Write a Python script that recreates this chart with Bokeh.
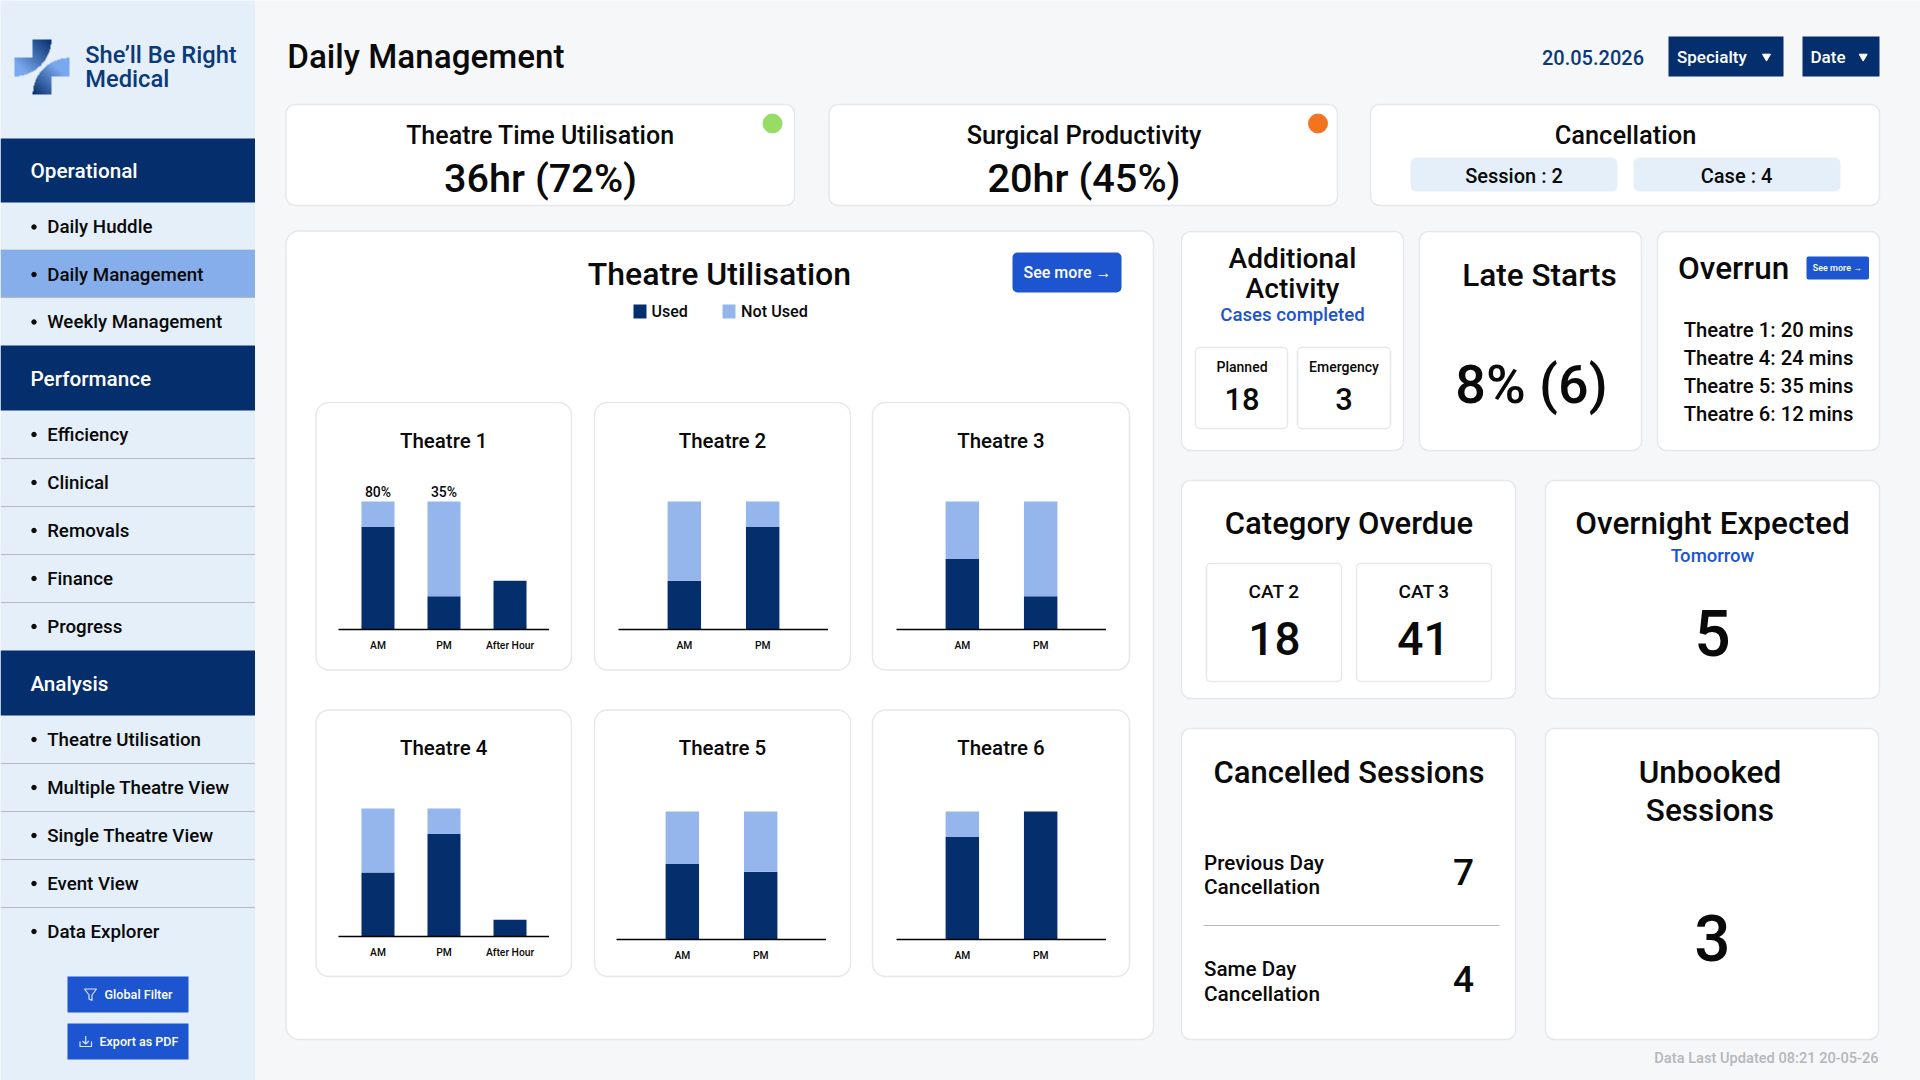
import numpy as np
from bokeh.core.properties import value
from bokeh.embed import file_html
from bokeh.layouts import column
from bokeh.models import ColumnDataSource, FactorRange, Range1d
from bokeh.plotting import figure
from bokeh.resources import INLINE

# ---------- data ----------
NAV_OPERATIONAL = ["Daily Huddle", "Daily Management", "Weekly Management"]
NAV_PERFORMANCE = ["Efficiency", "Clinical", "Removals", "Finance", "Progress"]
NAV_ANALYSIS = ["Theatre Utilisation", "Multiple Theatre View", "Single Theatre View", "Event View", "Data Explorer"]

SLOTS_3 = ["AM", "PM", "After Hour"]
SLOTS_2 = ["AM", "PM"]
T1_USED = [80, 26, 38]
T1_FREE = [20, 74, 0]
T2_USED = [38, 80]
T2_FREE = [62, 20]
T3_USED = [55, 26]
T3_FREE = [45, 74]
T4_USED = [50, 80, 13]
T4_FREE = [50, 20, 0]
T5_USED = [59, 53]
T5_FREE = [41, 47]
T6_USED = [80, 100]
T6_FREE = [20, 0]
T1_LABELS = ["80%", "35%", ""]

OVERRUN_LINES = ["Theatre 1: 20 mins", "Theatre 4: 24 mins", "Theatre 5: 35 mins", "Theatre 6: 12 mins"]

# ---------- palette ----------
NAVY = "#052E6C"
LIGHT = "#94B6EC"
BLUE = "#1D55D0"
SIDE = "#E4EFF9"
HILITE = "#86AEEB"
PAGE = "#F6F7F9"
EDGE = "#E6E8EC"
SEP = "#B4BAC0"
INK = "#0A0A0A"
FONT = "Roboto Medium"

bg = figure(width=1920, height=1080, x_range=Range1d(0, 1920), y_range=Range1d(1080, 0),
            output_backend="svg", toolbar_location=None, min_border=0,
            background_fill_color=PAGE, border_fill_color=PAGE, outline_line_color=None,
            styles={"position": "absolute", "left": "0px", "top": "0px"})
bg.axis.visible = False
bg.grid.visible = False


def box(l, t, r, b, fill="white", line=None, radius=0):
    bg.quad(left=[l], right=[r], top=[t], bottom=[b], fill_color=fill,
            line_color=line, line_width=1.5 if line else 0, border_radius=radius)


def card(l, t, r, b, radius=9):
    off = 1 if radius > 4 else 0
    box(l - off, t - off, r, b, "white", EDGE, radius)


def txt(x, y, s, size, color=INK, align="center"):
    bg.text(x=[x], y=[y], text=[s], text_font=value(FONT), text_font_size=f"{size}px", text_color=color,
            text_align=align, text_baseline="middle")


def hline(x0, x1, y, color=SEP, w=1.2):
    bg.line([x0, x1], [y, y], line_color=color, line_width=w)


# ---------- sidebar ----------
box(0, 0, 254.5, 1080, SIDE)


def section(title, top, items, rowh=48.0, head=65.0, ty=33.0, rc=24.0):
    box(0, top, 254.5, top + head, NAVY)
    txt(30, top + ty, title, 20.7, "white", "left")
    y = top + head
    for i, it in enumerate(items):
        if it == "Daily Management":
            box(0, y, 254.5, y + rowh, HILITE)
        bg.scatter([33.5], [y + rc], size=4.5, color=INK)
        txt(46.7, y + rc, it, 18.7, INK, "left")
        if i < len(items) - 1:
            hline(0, 254.5, y + rowh)
        y += rowh


section("Operational", 138, NAV_OPERATIONAL, rowh=47.5, head=64.0, ty=32.0, rc=24.5)
section("Performance", 345, NAV_PERFORMANCE)
section("Analysis", 650, NAV_ANALYSIS)

# logo
res = 6
px = 70
yy, xx = np.mgrid[0:px * res, 0:px * res]
X = 10 + (xx + .5) / res
Y = 35 + (yy + .5) / res
R = 36.7
top_m = (((X - 14) ** 2 + (Y - 39) ** 2) <= R ** 2) & (X >= 14) & (Y >= 39) & ~((X < 32.3) & (Y < 57.3))
bot_m = (((X - 69) ** 2 + (Y - 94) ** 2) <= R ** 2) & (X <= 69) & (Y <= 94) & ~((X > 50.7) & (Y > 75.7))
dark = np.array([5, 46, 108.])
lite = np.array([122, 168, 238.])
t_top = np.clip(((50.7 - X) + (Y - 39)) / 36.7 * .62, 0, 1)
t_bot = np.clip(((X - 32.3) + (94 - Y)) / 36.7 * .72, 0, 1)
rgb = np.zeros(X.shape + (3,))
for c in range(3):
    rgb[..., c] = np.where(top_m, dark[c] + (lite[c] - dark[c]) * t_top,
                           dark[c] + (lite[c] - dark[c]) * t_bot)
alpha = (top_m | bot_m).astype(float)
img = np.zeros(X.shape, dtype=np.uint32)
view = img.view(dtype=np.uint8).reshape(X.shape + (4,))
view[..., 0] = rgb[..., 0]
view[..., 1] = rgb[..., 1]
view[..., 2] = rgb[..., 2]
view[..., 3] = (alpha * 255).astype(np.uint8)
bg.image_rgba(image=[img], x=[10], y=[35], dw=[px], dh=[px])
txt(84.7, 54, "She’ll Be Right", 23.7, "#0B3A7A", "left")
txt(84.7, 78, "Medical", 23.7, "#0B3A7A", "left")

# side buttons
box(67, 976, 188, 1012, BLUE)
box(67, 1023, 188, 1059, BLUE)
txt(104, 994, "Global Filter", 12.6, "white", "left")
txt(99, 1041, "Export as PDF", 12.5, "white", "left")
bg.line([84, 96, 91.5, 91.5, 88.5, 88.5, 84], [988.5, 988.5, 994.5, 1000, 998.5, 994.5, 988.5],
        line_color="#DCE6F8", line_width=1.2)
bg.line([79.5, 79.5, 91, 91], [1041, 1046, 1046, 1041], line_color="#DCE6F8", line_width=1.2)
bg.line([85.2, 85.2], [1035.5, 1043], line_color="#DCE6F8", line_width=1.2)
bg.line([82, 85.2, 88.4], [1040.5, 1043.5, 1040.5], line_color="#DCE6F8", line_width=1.2)

# ---------- header ----------
txt(286.7, 56, "Daily Management", 33.2, INK, "left")
txt(1643.5, 56.5, "20.05.2026", 20, "#0B3A7A", "right")
box(1668, 36, 1783, 76, NAVY)
box(1802, 36, 1879, 76, NAVY)
txt(1676.5, 56.5, "Specialty", 17, "white", "left")
txt(1810, 56.5, "Date", 17, "white", "left")
bg.scatter([1766, 1862.7], [56, 56], marker="inverted_triangle", size=8, color="white")

# ---------- KPI cards ----------
card(286.5, 105, 794, 205)
card(829.5, 105, 1337, 205)
card(1371, 105, 1879, 205)
txt(540, 135, "Theatre Time Utilisation", 25)
txt(540, 177.7, "36hr (72%)", 39.7)
txt(1083.5, 134.5, "Surgical Productivity", 25.4)
txt(1083.5, 177.7, "20hr (45%)", 39.7)
txt(1625, 134.5, "Cancellation", 25.4)
bg.scatter([772], [123], size=19, color="#97DD65")
bg.scatter([1317.5], [123], size=19, color="#F47321")
box(1410, 157, 1617, 191, SIDE, None, 6)
box(1633, 157, 1840, 191, SIDE, None, 6)
txt(1513.5, 175, "Session : 2", 20)
txt(1736, 175, "Case : 4", 20)

# ---------- theatre panel ----------
card(286.5, 231.5, 1153, 1039, 13)
txt(719, 273.5, "Theatre Utilisation", 32)
box(1012, 252, 1121, 292, BLUE, None, 5)
txt(1067, 272, "See more →", 16, "white")
box(633, 304, 646, 318, NAVY)
box(722, 304, 735, 318, LIGHT)
txt(651, 311, "Used", 16, INK, "left")
txt(740.5, 311, "Not Used", 16.2, INK, "left")

CARD_X = [(316.5, 571), (595, 850), (873, 1129)]
TITLE_X = [443.2, 722, 1000.5]
for row, (t, b) in enumerate([(403, 669.5), (710.5, 976)]):
    for col, (l, r) in enumerate(CARD_X):
        card(l, t, r, b, 13)
        txt(TITLE_X[col], 440 if row == 0 else 747, f"Theatre {row * 3 + col + 1}", 20.5)


def chart(left, base, factors, used, free, labels=None):
    frame_h = 154
    three = len(factors) == 3
    fw = 211 if three else 210
    f = figure(width=fw, height=frame_h + 34, frame_width=fw, frame_height=frame_h,
               x_range=FactorRange(factors=factors, range_padding=0.098 if three else 0.34,
                                   range_padding_units="absolute"),
               y_range=Range1d(0, 120.3), output_backend="svg", toolbar_location=None, min_border=0,
               background_fill_alpha=0, border_fill_alpha=0, outline_line_color=None,
               styles={"position": "absolute", "left": f"{left}px", "top": f"{base - frame_h}px"})
    src = ColumnDataSource(dict(slot=factors, used=used, free=free))
    f.vbar_stack(["used", "free"], x="slot", width=0.5 if three else 0.427, color=[NAVY, LIGHT],
                 line_color=None, source=src)
    if labels:
        f.text(x=factors, y=[100] * len(factors), text=labels, text_font=value(FONT), text_font_size="14px",
               text_color=INK, text_align="center", text_baseline="bottom", y_offset=-1)
    f.yaxis.visible = False
    f.grid.visible = False
    ax = f.xaxis[0]
    ax.axis_line_color = "#000000"
    ax.axis_line_width = 1.5
    ax.major_tick_line_color = None
    ax.minor_tick_line_color = None
    ax.major_label_text_font = FONT
    ax.major_label_text_font_size = "10.3px"
    ax.major_label_text_color = INK
    ax.major_label_standoff = 3
    return f


charts = [
    chart(338, 629, SLOTS_3, T1_USED, T1_FREE, T1_LABELS),
    chart(618, 629, SLOTS_2, T2_USED, T2_FREE),
    chart(896, 629, SLOTS_2, T3_USED, T3_FREE),
    chart(338, 936, SLOTS_3, T4_USED, T4_FREE),
    chart(616, 939, SLOTS_2, T5_USED, T5_FREE),
    chart(896, 939, SLOTS_2, T6_USED, T6_FREE),
]

# ---------- right column ----------
card(1182, 232, 1403, 450)
card(1420, 232, 1641, 450)
card(1658, 232, 1879, 450)
txt(1292, 258, "Additional", 28)
txt(1292, 288, "Activity", 28)
txt(1292, 314.5, "Cases completed", 18.6, BLUE)
card(1195, 347, 1287, 428, 4)
card(1297, 347, 1390, 428, 4)
txt(1241.5, 366, "Planned", 14)
txt(1343.5, 366, "Emergency", 14)
txt(1241.5, 398, "18", 31)
txt(1343.5, 398, "3", 31)
txt(1539, 275, "Late Starts", 31.5)
txt(1531, 384, "8% (6)", 54)
txt(1677.5, 268, "Overrun", 31.5, INK, "left")
box(1806, 256, 1868.5, 279, BLUE, None, 2)
txt(1837, 267.5, "See more →", 9, "white")
for y, s in zip([329, 357, 385, 413], OVERRUN_LINES):
    txt(1768, y, s, 20.3)

card(1182, 481, 1515, 698)
card(1546, 481, 1879, 698)
txt(1348.5, 522.5, "Category Overdue", 31)
card(1206, 563, 1341, 681, 4)
card(1356, 563, 1491, 681, 4)
txt(1273.5, 591, "CAT 2", 19)
txt(1423.5, 591, "CAT 3", 19)
txt(1274, 638, "18", 46)
txt(1423, 638, "41", 46)
txt(1712, 523, "Overnight Expected", 31.5)
txt(1712, 555, "Tomorrow", 18.5, BLUE)
txt(1712, 632, "5", 64)

card(1182, 729, 1515, 1039)
card(1546, 729, 1878, 1039)
txt(1348.5, 772, "Cancelled Sessions", 31)
txt(1203.5, 862, "Previous Day", 20.6, INK, "left")
txt(1203.5, 886, "Cancellation", 20.8, INK, "left")
txt(1463, 871, "7", 37)
hline(1203, 1499, 925)
txt(1203.5, 968, "Same Day", 20.6, INK, "left")
txt(1203.5, 993, "Cancellation", 20.8, INK, "left")
txt(1463, 978, "4", 37)
txt(1709.5, 772, "Unbooked", 31.5)
txt(1709.5, 810, "Sessions", 31.5)
txt(1712, 937, "3", 64)
txt(1878, 1057, "Data Last Updated 08:21 20-05-26", 14.6, "#B5B7BB", "right")

page = column(bg, *charts, width=1920, height=1080, sizing_mode="fixed",
              styles={"position": "absolute", "left": "0px", "top": "0px"})
open("out.html", "w").write(file_html(page, INLINE))
